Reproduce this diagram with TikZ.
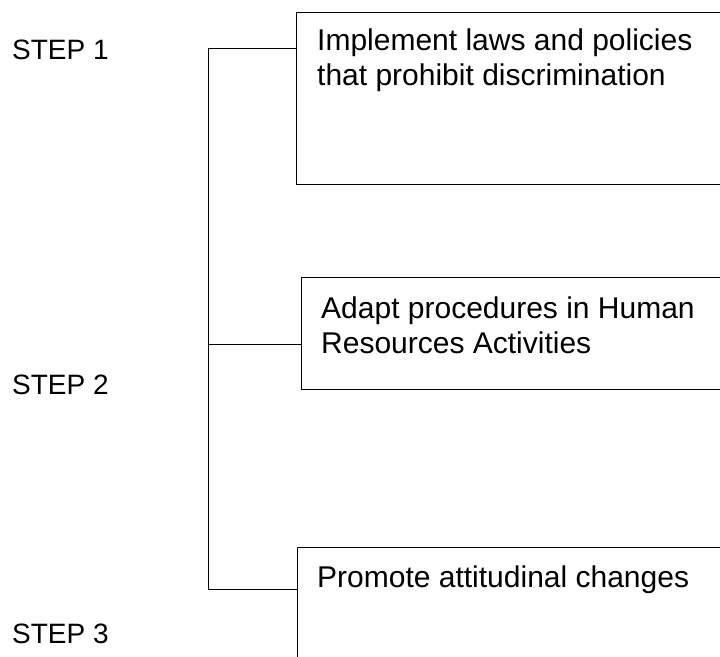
\documentclass[tikz,border=0pt]{standalone}
\usepackage{fontspec}
\setmainfont{Liberation Sans}
\usetikzlibrary{positioning}
\begin{document}
\begin{tikzpicture}
		[x=1pt,y=-1pt,
		 box/.style={draw,line width=1pt,anchor=north west,minimum width=480pt,inner sep=0pt},
		 boxtext/.style={inner sep=0pt,align=left,font=\fontsize{30}{34.5}\selectfont},
		 steplabel/.style={anchor=west,inner sep=0pt,font=\fontsize{28}{33}\selectfont},
		 link/.style={line width=1pt}]
		\useasboundingbox (0,0) rectangle (720,656);
		\clip (0,0) rectangle (720,656);

		% draw the three boxes
		\node [box,minimum height=172pt] (law) at (296,12) {};
		\node [box,minimum height=112pt] (hr) at (301,277) {};
		\node [box,minimum height=150pt] (promote) at (297,547) {};

		% the texts in the boxes
		\node [boxtext,below right=17pt and 21pt of law.north west] (lawtext)
			{Implement laws and policies\\that prohibit discrimination};
		\node [boxtext,below right=20pt and 20pt of hr.north west] (hrtext)
			{Adapt procedures in Human\\Resources Activities};
		\node [boxtext,below right=19pt and 20pt of promote.north west] (promotetext)
			{Promote attitudinal changes};

		% the step labels
		\node [steplabel] (step1) at (12,50) {STEP 1};
		\node [steplabel] (step2) at (12,385) {STEP 2};
		\node [steplabel] (step3) at (12,634) {STEP 3};

		% draw the bracket joining the boxes
		\coordinate (spinetop) at (208,48);
		\coordinate (spinemid) at (208,344);
		\coordinate (spinebot) at (208,589);
		\draw [link] (law.west |- spinetop) -- (spinetop) -- (spinebot) -- (promote.west |- spinebot);
		\draw [link] (spinemid) -- (hr.west |- spinemid);
	\end{tikzpicture}
\end{document}
